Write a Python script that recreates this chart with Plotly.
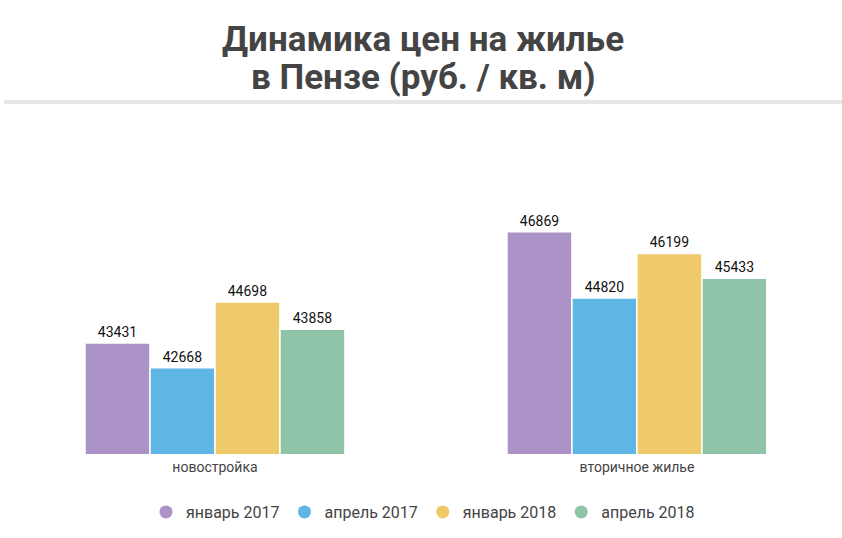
import plotly.graph_objects as go

categories = ["новостройка", "вторичное жилье"]
series_names = ["январь 2017", "апрель 2017", "январь 2018", "апрель 2018"]
values = {
    "январь 2017": [43431, 46869],
    "апрель 2017": [42668, 44820],
    "январь 2018": [44698, 46199],
    "апрель 2018": [43858, 45433],
}
colors = ["#ab92c7", "#5fb6e4", "#eeca6a", "#8fc4a8"]
title_lines = ["Динамика цен на жилье", "в Пензе (руб. / кв. м)"]

FONT = "Roboto"
H, T, B = 538, 110, 84
PH = H - T - B


def py(pix):
    return (H - B - pix) / PH


fig = go.Figure()
for name, col in zip(series_names, colors):
    vals = values[name]
    fig.add_trace(go.Bar(
        x=[0, 1], y=vals, name=name,
        marker=dict(color=col, line=dict(color="white", width=1.5)),
        text=[str(v) for v in vals], textposition="outside",
        textfont=dict(family=FONT, size=14, color="#111"),
        cliponaxis=False, showlegend=False,
    ))
    fig.add_trace(go.Scatter(
        x=[None], y=[None], mode="markers", name=name,
        marker=dict(symbol="circle", size=13, color=col),
    ))

annotations = [
    dict(text="<b>%s</b>" % t, xref="paper", yref="paper", x=0.5, y=py(yc),
         xanchor="center", yanchor="middle", showarrow=False,
         font=dict(family=FONT, size=35, color="#444"))
    for t, yc in zip(title_lines, [39, 77])
]

fig.update_layout(
    width=842, height=H,
    margin=dict(l=4, r=0, t=T, b=B),
    paper_bgcolor="white", plot_bgcolor="white",
    barmode="group", bargap=0.384, bargroupgap=0,
    xaxis=dict(range=[-0.5, 1.486], tickvals=[0, 1], ticktext=categories,
               showgrid=False, zeroline=False, showline=False, ticks="",
               ticklabelstandoff=3,
               tickfont=dict(family=FONT, size=14, color="#444")),
    yaxis=dict(range=[40000, 50630], visible=False, showgrid=False),
    legend=dict(orientation="h", x=0.5, xanchor="center", y=py(495), yanchor="top",
                font=dict(family=FONT, size=16, color="#444"),
                itemwidth=30, tracegroupgap=0),
    annotations=annotations,
    shapes=[dict(type="line", xref="paper", yref="paper",
                 x0=0, x1=1, y0=py(102), y1=py(102),
                 line=dict(color="#e6e6e6", width=4))],
)
fig.write_html("out.html")
